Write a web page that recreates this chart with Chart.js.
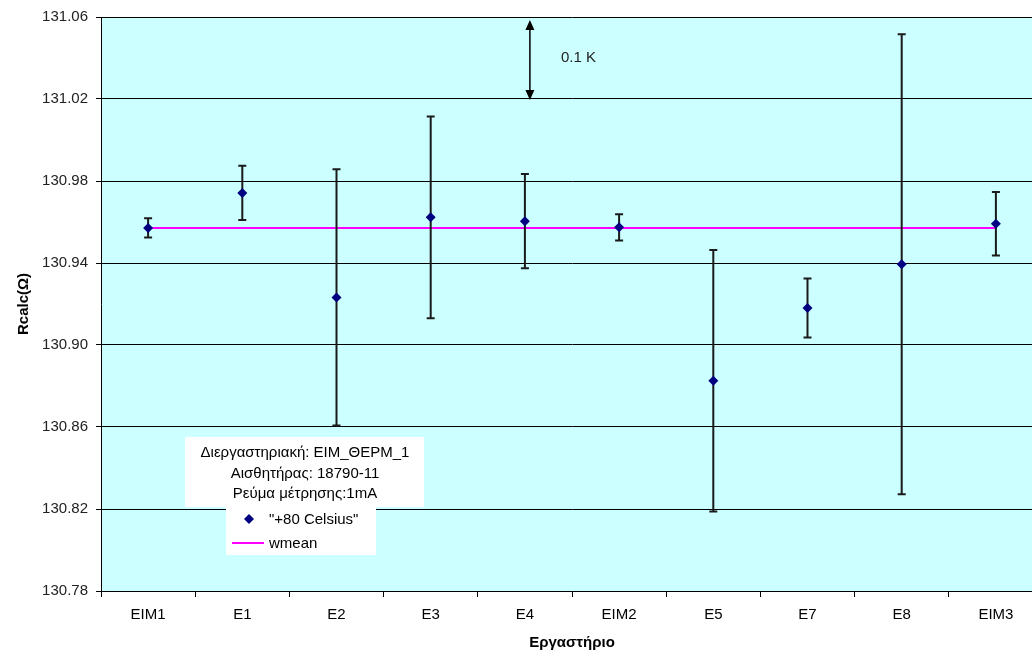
<!DOCTYPE html>
<html>
<head>
<meta charset="utf-8">
<script src="https://cdn.jsdelivr.net/npm/chart.js@4/dist/chart.umd.min.js"></script>
<style>
  body { margin: 0; overflow: hidden; background: #fff; }
</style>
</head>
<body>
<canvas id="graph" width="1048" height="657"></canvas>
<script>
const labs = ["EIM1", "E1", "E2", "E3", "E4", "EIM2", "E5", "E7", "E8", "EIM3"];
const rcalc = [130.9571, 130.9742, 130.9232, 130.9623, 130.9604, 130.9574, 130.8826, 130.918, 130.9394, 130.9591];
const errs = [0.0047, 0.0132, 0.0625, 0.0492, 0.023, 0.0064, 0.0638, 0.0144, 0.1122, 0.0155];
const wmean = [130.9571, 130.9571, 130.9571, 130.9571, 130.9571, 130.9571, 130.9571, 130.9571, 130.9571, 130.9571];
const yTicks = [130.78, 130.82, 130.86, 130.90, 130.94, 130.98, 131.02, 131.06];
const infoLines = ["Διεργαστηριακή: ΕΙΜ_ΘΕΡΜ_1", "Αισθητήρας: 18790-11", "Ρεύμα μέτρησης:1mA"];

const FONT = "'Liberation Sans', Arial, sans-serif";

const extras = {
  id: "extras",
  beforeDraw(chart) {
    const { ctx, chartArea: a } = chart;
    ctx.save();
    ctx.fillStyle = "#fff";
    ctx.fillRect(0, 0, chart.width, chart.height);
    ctx.fillStyle = "#ccffff";
    ctx.fillRect(a.left, a.top, a.right - a.left, a.bottom - a.top);
    ctx.restore();
  },
  afterDatasetDraw(chart, args) {
    if (args.index !== 1) return;
    // error bars, under the markers
    const { ctx, scales } = chart;
    ctx.save();
    ctx.strokeStyle = "#1a1a1a";
    ctx.lineWidth = 2;
    rcalc.forEach((v, i) => {
      const x = scales.x.getPixelForValue(i);
      const y1 = scales.y.getPixelForValue(v + errs[i]);
      const y2 = scales.y.getPixelForValue(v - errs[i]);
      ctx.beginPath();
      ctx.moveTo(x, y1); ctx.lineTo(x, y2);
      ctx.moveTo(x - 4, y1); ctx.lineTo(x + 4, y1);
      ctx.moveTo(x - 4, y2); ctx.lineTo(x + 4, y2);
      ctx.stroke();
    });
    ctx.restore();
  },
  afterDraw(chart) {
    const { ctx, scales } = chart;
    ctx.save();
    // 0.1 K arrow
    const ax = scales.x.getPixelForValue(4) + 5;
    const top = scales.y.getPixelForValue(131.06) + 3;
    const bot = scales.y.getPixelForValue(131.02) + 1;
    ctx.strokeStyle = "#000";
    ctx.fillStyle = "#000";
    ctx.lineWidth = 1.5;
    ctx.beginPath();
    ctx.moveTo(ax, top + 8); ctx.lineTo(ax, bot - 8);
    ctx.stroke();
    ctx.beginPath();
    ctx.moveTo(ax, top); ctx.lineTo(ax - 4.5, top + 10); ctx.lineTo(ax + 4.5, top + 10); ctx.closePath();
    ctx.moveTo(ax, bot); ctx.lineTo(ax - 4.5, bot - 10); ctx.lineTo(ax + 4.5, bot - 10); ctx.closePath();
    ctx.fill();
    ctx.font = "15px " + FONT;
    ctx.textAlign = "left";
    ctx.textBaseline = "middle";
    ctx.fillStyle = "#222";
    ctx.fillText("0.1 K", 561, 58);

    // legend box
    ctx.fillStyle = "#fff";
    ctx.fillRect(185, 437, 239, 70);
    ctx.fillRect(226, 506, 150, 49);
    ctx.fillStyle = "#000";
    ctx.textAlign = "center";
    infoLines.forEach((t, i) => ctx.fillText(t, 305, 453 + i * 20.5));
    ctx.fillStyle = "#000080";
    ctx.beginPath();
    ctx.moveTo(249, 514); ctx.lineTo(254, 519); ctx.lineTo(249, 524); ctx.lineTo(244, 519); ctx.closePath();
    ctx.fill();
    ctx.strokeStyle = "#ff00ff";
    ctx.lineWidth = 2;
    ctx.beginPath();
    ctx.moveTo(232, 543); ctx.lineTo(264, 543);
    ctx.stroke();
    ctx.fillStyle = "#000";
    ctx.textAlign = "left";
    ctx.fillText(chart.data.datasets[0].label, 269, 520);
    ctx.fillText(chart.data.datasets[1].label, 269, 544);
    ctx.restore();
  }
};

const graph = document.getElementById("graph").getContext("2d");

const myChart = new Chart(graph, {
  type: "line",
  data: {
    labels: labs,
    datasets: [
      {
        label: '"+80 Celsius"',
        data: rcalc,
        showLine: false,
        pointStyle: "rectRot",
        pointRadius: 5,
        pointBorderWidth: 0,
        backgroundColor: "#000080",
        borderColor: "#000080",
      },
      {
        label: "wmean",
        data: wmean,
        borderColor: "#ff00ff",
        borderWidth: 2,
        pointRadius: 0,
        fill: false,
      },
    ],
  },
  options: {
    responsive: false,
    animation: false,
    devicePixelRatio: 1,
    layout: {
      padding: { top: 17, left: 0, right: 0, bottom: 0 },
    },
    plugins: {
      legend: { display: false },
      tooltip: { enabled: false },
    },
    scales: {
      x: {
        offset: true,
        grid: {
          offset: true,
          drawOnChartArea: false,
          color: "#000",
          tickLength: 6,
        },
        border: { color: "#000", width: 1 },
        ticks: {
          color: "#000",
          font: { family: FONT, size: 15 },
          padding: 9,
          maxRotation: 0,
        },
        title: {
          display: true,
          text: "Εργαστήριο",
          color: "#000",
          font: { family: FONT, size: 15, weight: "bold" },
          padding: { top: 0, bottom: 5 },
        },
        afterFit: (s) => { s.height = 66; },
      },
      y: {
        min: 130.78,
        max: 131.06,
        afterBuildTicks: (s) => { s.ticks = yTicks.map((v) => ({ value: v })); },
        grid: { color: "#000", lineWidth: 1, tickLength: 5 },
        border: { color: "#000", width: 1 },
        ticks: {
          color: "#222",
          font: { family: FONT, size: 15 },
          padding: 8,
          callback: (v) => Number(v).toFixed(2),
        },
        title: {
          display: true,
          text: "Rcalc(Ω)",
          color: "#000",
          font: { family: FONT, size: 15, weight: "bold" },
          padding: { top: 15, bottom: 0 },
        },
        afterFit: (s) => { s.width = 101; },
      },
    },
  },
  plugins: [extras],
});
</script>
</body>
</html>
